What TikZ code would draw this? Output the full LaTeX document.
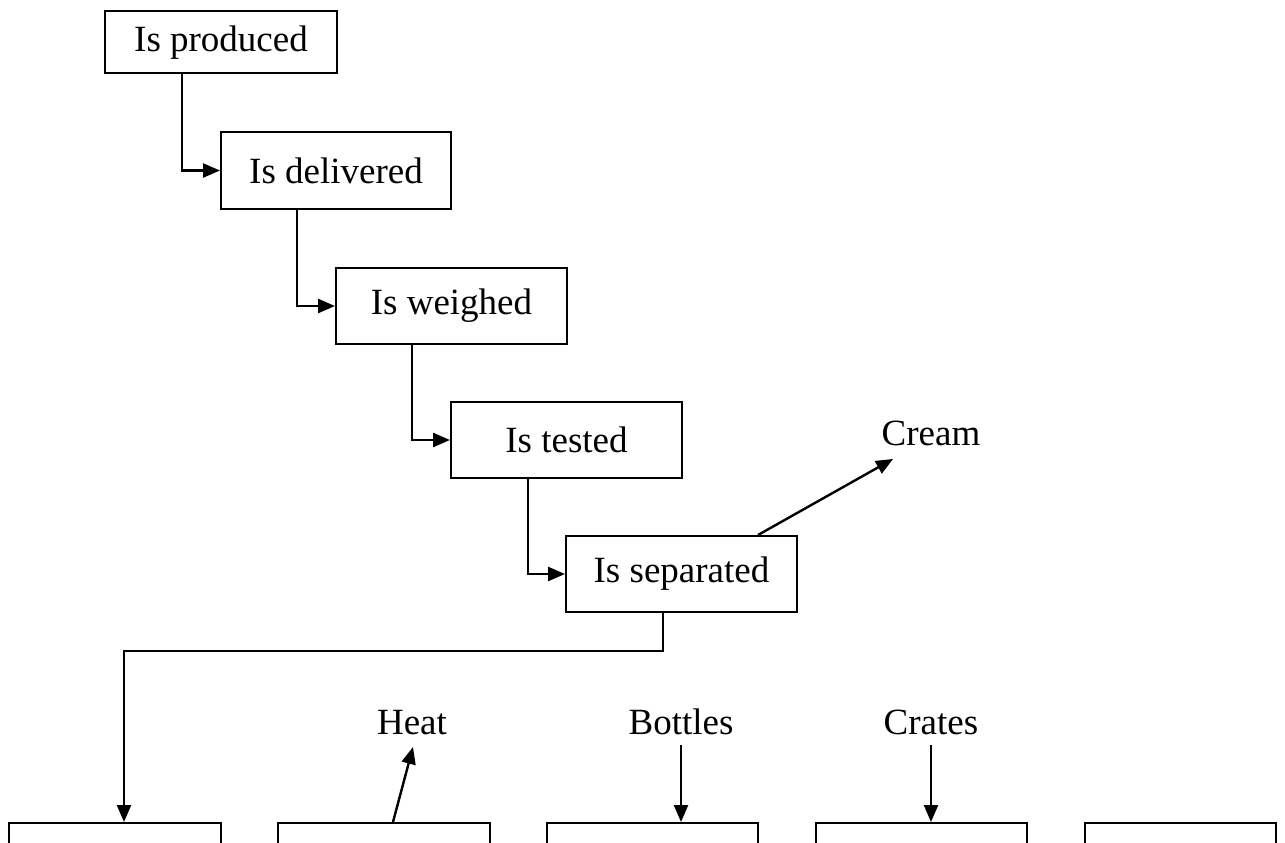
\documentclass[tikz,border=0pt]{standalone}
\usepackage{fontspec}
\setmainfont{Liberation Serif}
\usetikzlibrary{arrows.meta}
\begin{document}
\begin{tikzpicture}[x=1pt,y=-1pt,
  every node/.style={font=\fontsize{37}{43}\selectfont},
  stepbox/.style={draw,line width=2pt,inner sep=0pt,anchor=center},
  lbl/.style={inner sep=0pt,anchor=base},
  conn/.style={line width=2.4pt,-{Triangle[length=17pt,width=14pt]}}]
\useasboundingbox (0,0) rectangle (1285,843);
\clip (0,0) rectangle (1285,843);
\node[stepbox,minimum width=232pt,minimum height=62pt] (prod) at (221,42.5) {Is produced};
\node[stepbox,minimum width=230pt,minimum height=77pt] (deliv) at (336,170.5) {Is delivered};
\node[stepbox,minimum width=231pt,minimum height=76pt] (weigh) at (451.5,306) {Is weighed};
\node[stepbox,minimum width=231pt,minimum height=76pt] (test) at (566.5,440) {Is tested};
\node[stepbox,minimum width=231pt,minimum height=76pt] (sep) at (681.5,574) {Is separated};
\node[stepbox,minimum width=212pt,minimum height=80pt] (b1) at (115,863) {};
\node[stepbox,minimum width=212pt,minimum height=80pt] (b2) at (384,863) {};
\node[stepbox,minimum width=211pt,minimum height=80pt] (b3) at (652.5,863) {};
\node[stepbox,minimum width=211pt,minimum height=80pt] (b4) at (921,863) {};
\node[stepbox,minimum width=191pt,minimum height=80pt] (b5) at (1180.5,863) {};
\node[lbl] (cream) at (931,445) {Cream};
\node[lbl] (heat) at (412,734) {Heat};
\node[lbl] (bottles) at (681,734) {Bottles};
\node[lbl] (crates) at (931,734) {Crates};
\draw[conn] (prod.south -| 182,0) |- (deliv.west);
\draw[conn] (deliv.south -| 297,0) |- (weigh.west);
\draw[conn] (weigh.south -| 412,0) |- (test.west);
\draw[conn] (test.south -| 528,0) |- (sep.west);
\draw[conn] (sep.north -| 758,0) -- (893,459);
\draw[conn] (sep.south -| 663,0) -- (663,651) -| (b1.north -| 124,0);
\draw[conn] (b2.north -| 393,0) -- (413,747);
\draw[conn] (681,745) -- (b3.north -| 681,0);
\draw[conn] (931,745) -- (b4.north -| 931,0);
\end{tikzpicture}
\end{document}
